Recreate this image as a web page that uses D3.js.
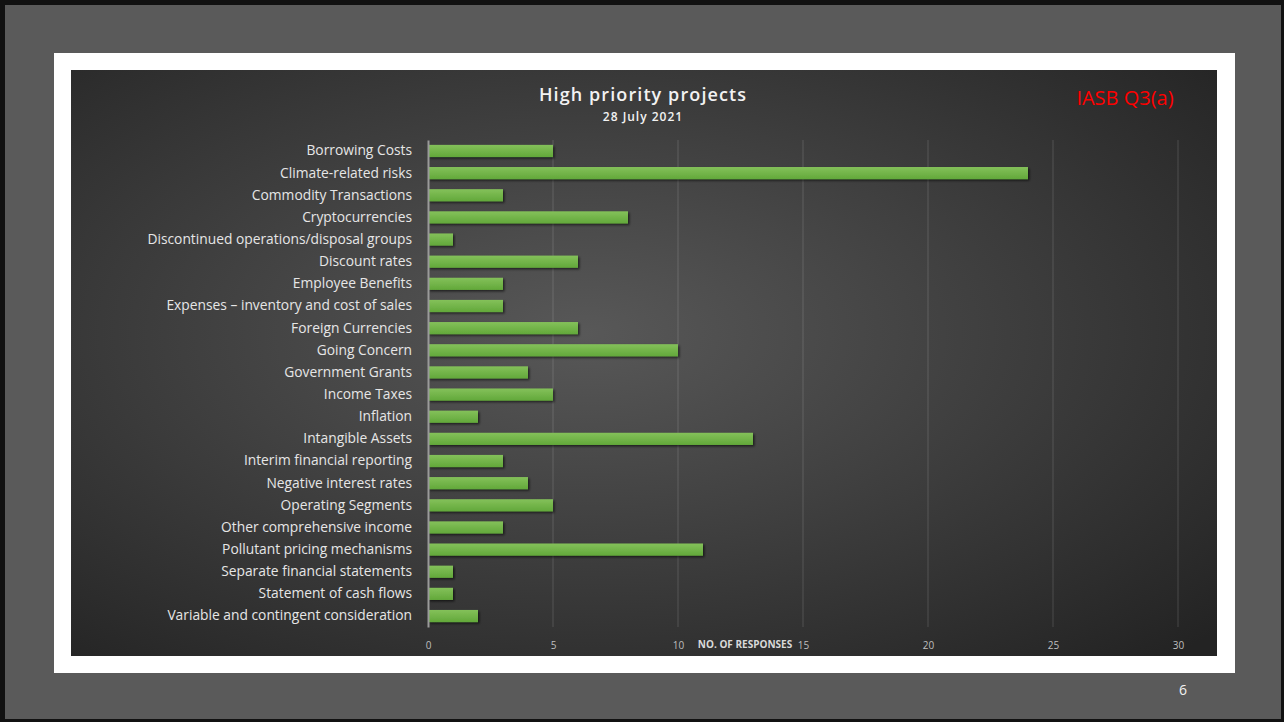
<!DOCTYPE html>
<html>
<head>
<meta charset="utf-8">
<script src="https://cdn.jsdelivr.net/npm/d3@7"></script>
<style>
  html, body { margin: 0; padding: 0; background: #000; }
  svg { display: block; }
</style>
</head>
<body>
<div id="chart"></div>
<script>
const categories = [
  "Borrowing Costs", "Climate-related risks", "Commodity Transactions", "Cryptocurrencies ",
  "Discontinued operations/disposal groups", "Discount rates", "Employee Benefits",
  "Expenses \u2013 inventory and cost of sales", "Foreign Currencies", "Going Concern",
  "Government Grants", "Income Taxes", "Inflation", "Intangible Assets",
  "Interim financial reporting", "Negative interest rates", "Operating Segments",
  "Other comprehensive income", "Pollutant pricing mechanisms", "Separate financial statements",
  "Statement of cash flows ", "Variable and contingent consideration"
];
const responses = [5, 24, 3, 8, 1, 6, 3, 3, 6, 10, 4, 5, 2, 13, 3, 4, 5, 3, 11, 1, 1, 2];
const xTicks = [0, 5, 10, 15, 20, 25, 30];

const W = 1284, H = 722;
const svg = d3.select("#chart").append("svg").attr("width", W).attr("height", H);
const defs = svg.append("defs");

const bg = defs.append("radialGradient").attr("id", "bg")
  .attr("cx", "0.45").attr("cy", "0.45").attr("r", "0.75");
bg.append("stop").attr("offset", "0%").attr("stop-color", "#585858");
bg.append("stop").attr("offset", "100%").attr("stop-color", "#232323");

const barGrad = defs.append("linearGradient").attr("id", "bar")
  .attr("x1", 0).attr("y1", 0).attr("x2", 0).attr("y2", 1);
barGrad.append("stop").attr("offset", "0%").attr("stop-color", "#84c15a");
barGrad.append("stop").attr("offset", "100%").attr("stop-color", "#62a83a");

const shadow = defs.append("filter").attr("id", "shadow")
  .attr("x", "-5%").attr("y", "-50%").attr("width", "115%").attr("height", "220%");
shadow.append("feDropShadow").attr("dx", 1.5).attr("dy", 1.5).attr("stdDeviation", 1.2)
  .attr("flood-color", "#000").attr("flood-opacity", 0.6);

// slide frame
svg.append("rect").attr("x", 0).attr("y", 0).attr("width", W).attr("height", H).attr("fill", "#111");
svg.append("rect").attr("x", 5).attr("y", 5).attr("width", W - 8).attr("height", H - 8).attr("fill", "#5a5a5a");
svg.append("rect").attr("x", 54).attr("y", 53).attr("width", 1181).attr("height", 620).attr("fill", "#fff");
svg.append("rect").attr("x", 71).attr("y", 70).attr("width", 1146).attr("height", 586).attr("fill", "url(#bg)");

svg.append("text").attr("x", 1183).attr("y", 695).attr("text-anchor", "middle")
  .attr("font-family", "Open Sans, sans-serif").attr("font-size", 14).attr("fill", "#f2f2f2").text("6");

const margin = { left: 428, right: 106, top: 140, bottom: 95 };
const x = d3.scaleLinear().domain([0, 30]).range([margin.left, W - margin.right]);
const y = d3.scaleBand().domain(categories).range([margin.top, H - margin.bottom]).paddingInner(0.45).paddingOuter(0.22);

// gridlines
svg.append("g").selectAll("line").data(xTicks.slice(1)).join("line")
  .attr("x1", d => x(d)).attr("x2", d => x(d))
  .attr("y1", margin.top).attr("y2", H - margin.bottom)
  .attr("stroke", "#ffffff").attr("stroke-opacity", 0.1).attr("stroke-width", 1.5);

// bars
svg.append("g").selectAll("rect").data(responses).join("rect")
  .attr("x", x(0)).attr("y", (d, i) => y(categories[i]))
  .attr("width", d => x(d) - x(0)).attr("height", y.bandwidth())
  .attr("fill", "url(#bar)").attr("filter", "url(#shadow)");

// category axis
const yAxis = svg.append("g").attr("transform", `translate(${x(0)},0)`)
  .call(d3.axisLeft(y).tickSize(0).tickPadding(16));
yAxis.select(".domain").attr("stroke", "#9a9a9a").attr("stroke-width", 2);
yAxis.selectAll("text").attr("font-family", "Open Sans, sans-serif").attr("font-size", 13.8).attr("fill", "#e6e6e6");

// value axis
const xAxis = svg.append("g").attr("transform", `translate(0,${H - margin.bottom + 9})`)
  .call(d3.axisBottom(x).tickValues(xTicks).tickSize(0).tickPadding(6));
xAxis.select(".domain").remove();
xAxis.selectAll("text").attr("font-family", "Open Sans, sans-serif").attr("font-size", 10).attr("fill", "#bfbfbf");

svg.append("text").attr("x", 745).attr("y", 648).attr("text-anchor", "middle")
  .attr("font-family", "Open Sans, sans-serif").attr("font-weight", "bold").attr("font-size", 10)
  .attr("fill", "#d9d9d9").text("NO. OF RESPONSES");

// titles
svg.append("text").attr("x", 643).attr("y", 101).attr("text-anchor", "middle")
  .attr("font-family", "Open Sans, sans-serif").attr("font-weight", 600).attr("font-size", 18)
  .attr("letter-spacing", 1.1).attr("fill", "#f2f2f2").text("High priority projects");
svg.append("text").attr("x", 643).attr("y", 121).attr("text-anchor", "middle")
  .attr("font-family", "Open Sans, sans-serif").attr("font-weight", 600).attr("font-size", 12)
  .attr("letter-spacing", 1).attr("fill", "#f2f2f2").text("28 July 2021");

svg.append("text").attr("x", 1125).attr("y", 105).attr("text-anchor", "middle")
  .attr("font-family", "Open Sans, sans-serif").attr("font-size", 20)
  .attr("fill", "#ff0000").text("IASB Q3(a)");
</script>
</body>
</html>
